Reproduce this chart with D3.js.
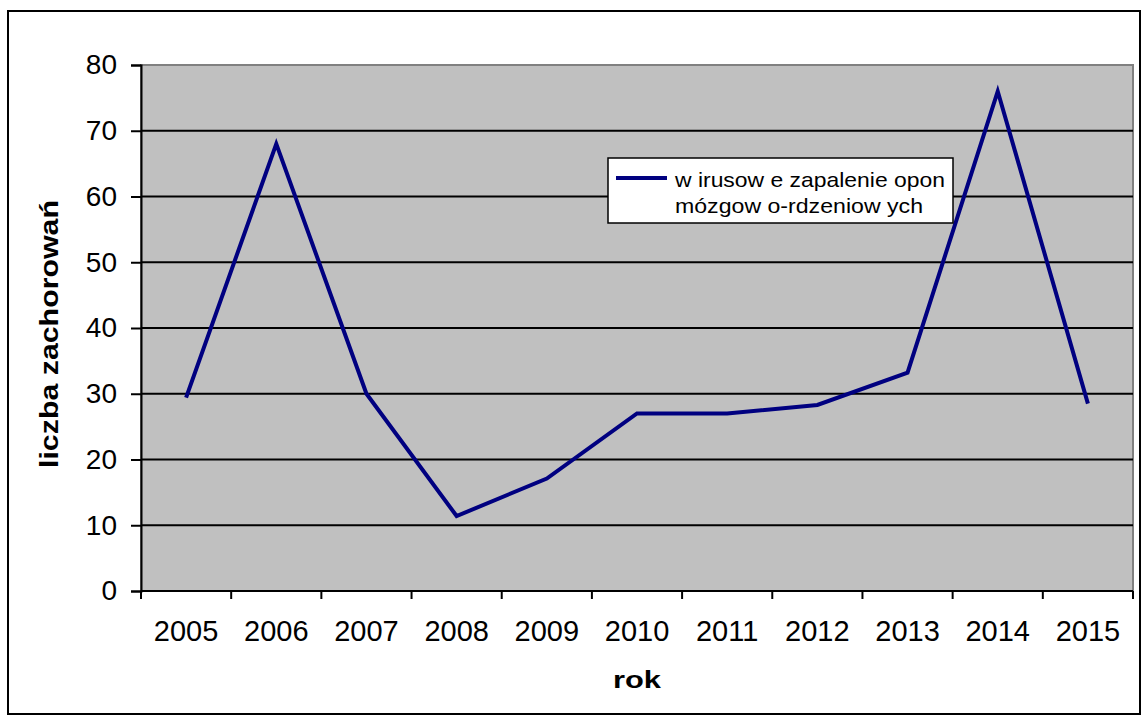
<!DOCTYPE html>
<html>
<head>
<meta charset="utf-8">
<script src="https://cdn.jsdelivr.net/npm/d3@7"></script>
<style>
  html, body { margin: 0; padding: 0; background: #fff; }
  svg { display: block; font-family: "Liberation Sans", Arial, sans-serif; }
</style>
</head>
<body>
<svg id="chart" width="1148" height="716"></svg>
<script>
// Yearly case counts of viral meningitis / encephalitis
const years = ["2005", "2006", "2007", "2008", "2009", "2010", "2011", "2012", "2013", "2014", "2015"];
const cases = [29.4, 68, 30, 11.4, 17.1, 27, 27, 28.3, 33.2, 76, 28.5];
const yTicks = [0, 10, 20, 30, 40, 50, 60, 70, 80];
const seriesName = ["w irusow e zapalenie opon", "mózgow o-rdzeniow ych"];
const xTitle = "rok";
const yTitle = "liczba zachorowań";

const svg = d3.select("#chart");
const plot = { left: 141, right: 1133, top: 65, bottom: 591 };

// outer chart frame
svg.append("rect")
  .attr("x", 8).attr("y", 11).attr("width", 1132).attr("height", 703)
  .attr("fill", "#fff").attr("stroke", "#000").attr("stroke-width", 2);

const x = d3.scaleBand().domain(years).range([plot.left, plot.right]).padding(0);
const xEdge = d3.scaleLinear().domain([0, years.length]).range([plot.left, plot.right]);
const y = d3.scaleLinear().domain([0, 80]).range([plot.bottom, plot.top]);

// plot background
svg.append("rect")
  .attr("x", plot.left).attr("y", plot.top)
  .attr("width", plot.right - plot.left).attr("height", plot.bottom - plot.top)
  .attr("fill", "#c0c0c0").attr("stroke", "#808080").attr("stroke-width", 2);

// horizontal gridlines
svg.append("g").selectAll("line")
  .data(yTicks.filter(d => d > 0 && d < 80))
  .join("line")
  .attr("x1", plot.left).attr("x2", plot.right)
  .attr("y1", d => y(d)).attr("y2", d => y(d))
  .attr("stroke", "#000").attr("stroke-width", 2);

// y axis
const yAxis = svg.append("g")
  .attr("transform", `translate(${plot.left},0)`)
  .call(d3.axisLeft(y).tickValues(yTicks).tickSize(10).tickPadding(14));
yAxis.select(".domain").attr("stroke", "#000").attr("stroke-width", 2);
yAxis.selectAll(".tick line").attr("stroke", "#000").attr("stroke-width", 2);
yAxis.selectAll("text")
  .attr("font-size", 28).attr("fill", "#000")
  .attr("font-family", "'Liberation Sans', Arial, sans-serif");

// x axis: labels centred in categories, ticks on category boundaries
const xAxis = svg.append("g")
  .attr("transform", `translate(0,${plot.bottom})`)
  .call(d3.axisBottom(x).tickSize(0).tickPadding(29));
xAxis.select(".domain").remove();
xAxis.selectAll("text")
  .attr("font-size", 29).attr("fill", "#000")
  .attr("font-family", "'Liberation Sans', Arial, sans-serif");

svg.append("line")
  .attr("x1", plot.left).attr("x2", plot.right)
  .attr("y1", plot.bottom).attr("y2", plot.bottom)
  .attr("stroke", "#000").attr("stroke-width", 2);
svg.append("g").selectAll("line")
  .data(d3.range(years.length + 1))
  .join("line")
  .attr("x1", d => xEdge(d)).attr("x2", d => xEdge(d))
  .attr("y1", plot.bottom).attr("y2", plot.bottom + 8)
  .attr("stroke", "#000").attr("stroke-width", 2);

// data line
const line = d3.line()
  .x((d, i) => x(years[i]) + x.bandwidth() / 2)
  .y(d => y(d));
svg.append("path")
  .datum(cases)
  .attr("d", line)
  .attr("fill", "none")
  .attr("stroke", "#000080")
  .attr("stroke-width", 4)
  .attr("stroke-linejoin", "miter");

// legend
const legend = svg.append("g").attr("transform", "translate(608,158)");
legend.append("rect")
  .attr("width", 345).attr("height", 65)
  .attr("fill", "#fff").attr("stroke", "#000").attr("stroke-width", 1.5);
legend.append("line")
  .attr("x1", 8).attr("x2", 59).attr("y1", 20).attr("y2", 20)
  .attr("stroke", "#000080").attr("stroke-width", 4);
legend.append("text")
  .attr("x", 67).attr("y", 29)
  .attr("font-size", 21).attr("fill", "#000")
  .attr("textLength", 270).attr("lengthAdjust", "spacingAndGlyphs")
  .text(seriesName[0]);
legend.append("text")
  .attr("x", 67).attr("y", 55)
  .attr("font-size", 21).attr("fill", "#000")
  .attr("textLength", 248).attr("lengthAdjust", "spacingAndGlyphs")
  .text(seriesName[1]);

// axis titles
svg.append("text")
  .attr("x", (plot.left + plot.right) / 2).attr("y", 688)
  .attr("text-anchor", "middle")
  .attr("font-size", 24).attr("font-weight", "bold")
  .attr("textLength", 48).attr("lengthAdjust", "spacingAndGlyphs")
  .text(xTitle);
svg.append("text")
  .attr("transform", "translate(58,334) rotate(-90)")
  .attr("text-anchor", "middle")
  .attr("font-size", 25).attr("font-weight", "bold")
  .attr("textLength", 268).attr("lengthAdjust", "spacingAndGlyphs")
  .text(yTitle);
</script>
</body>
</html>
